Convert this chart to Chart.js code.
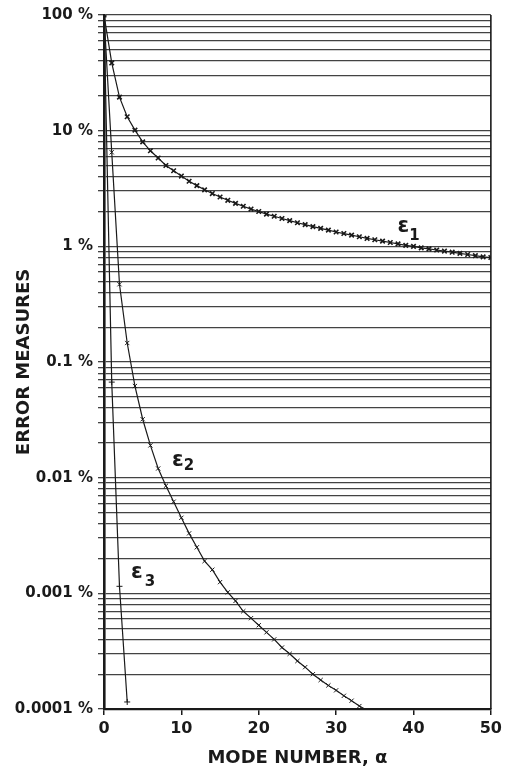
<!DOCTYPE html>
<html>
<head>
<meta charset="utf-8">
<script src="https://cdn.jsdelivr.net/npm/chart.js@4.4.1/dist/chart.umd.min.js"></script>
<style>
  html, body { margin: 0; padding: 0; background: #fff; }
  #wrap { width: 506px; height: 770px; }
</style>
</head>
<body>
<div id="wrap"><canvas id="chartErrors" width="506" height="770"></canvas></div>
<script>
/* =========================
   DATA (percent)
========================= */

const modeNumbers = [
  0, 1, 2, 3, 4, 5, 6, 7, 8, 9,
  10, 11, 12, 13, 14, 15, 16, 17, 18, 19,
  20, 21, 22, 23, 24, 25, 26, 27, 28, 29,
  30, 31, 32, 33, 34, 35, 36, 37, 38, 39,
  40, 41, 42, 43, 44, 45, 46, 47, 48, 49,
  50
];

const epsilon1 = [
  100, 38.5, 19.5, 13.2, 10.1, 8.0, 6.7, 5.8, 5.0, 4.5,
  4.05, 3.65, 3.35, 3.08, 2.86, 2.67, 2.5, 2.35, 2.22, 2.1,
  2.0, 1.9, 1.82, 1.74, 1.67, 1.6, 1.54, 1.48, 1.43, 1.38,
  1.33, 1.29, 1.25, 1.21, 1.17, 1.14, 1.11, 1.08, 1.05, 1.02,
  1.0, 0.97, 0.95, 0.93, 0.91, 0.89, 0.87, 0.85, 0.83, 0.81,
  0.8
];

const epsilon2 = [
  100, 6.5, 0.47, 0.146, 0.062, 0.032, 0.019, 0.012, 0.0085, 0.0062,
  0.0045, 0.0033, 0.0025, 0.0019, 0.0016, 0.00125, 0.00102, 0.00086, 0.0007, 0.00061,
  0.00053, 0.00046, 0.0004, 0.00034, 0.0003, 0.00026, 0.00023, 0.0002, 0.000178, 0.00016,
  0.000145, 0.00013, 0.000118, 0.000106, 0.0000975
];

const epsilon3 = [100, 0.067, 0.00115, 0.000115];

const decadeTicks = [0.0001, 0.001, 0.01, 0.1, 1, 10, 100];
const decadeLabels = ['0.0001 %', '0.001 %', '0.01 %', '0.1 %', '1 %', '10 %', '100 %'];
const minorSteps = [1, 2, 3, 4, 5, 6, 7, 8, 9];
const xTicks = [0, 10, 20, 30, 40, 50];

/* curve labels, anchored in data units */
const curveLabels = [
  { sub: '1', x: 38.7, y: 1.47, dx: 11, dy: 9 },
  { sub: '2', x: 9.55, y: 0.0142, dx: 11, dy: 6 },
  { sub: '3', x: 4.26, y: 0.0015, dx: 13, dy: 9 }
];

/* =========================
   HELPERS
========================= */

function toPoints(values) {
  return values.map((v, i) => ({ x: modeNumbers[i], y: v }));
}

const ink = '#1a1a1a';
const font = 'DejaVu Sans';

const yTickValues = [];
decadeTicks.forEach(d => {
  minorSteps.forEach(m => {
    const v = d * m;
    if (v <= 100.0001) {
      yTickValues.push(m === 1 ? d : v);
    }
  });
});

/* right frame line + epsilon labels */
const framePlugin = {
  id: 'frame',
  afterDatasetsDraw(chart) {
    const { ctx, chartArea, scales } = chart;

    ctx.save();
    ctx.strokeStyle = ink;
    ctx.lineWidth = 1.6;
    ctx.beginPath();
    ctx.moveTo(chartArea.right, chartArea.top);
    ctx.lineTo(chartArea.right, chartArea.bottom);
    ctx.stroke();

    ctx.fillStyle = ink;
    ctx.textAlign = 'center';
    ctx.textBaseline = 'middle';

    curveLabels.forEach(l => {
      const px = scales.x.getPixelForValue(l.x);
      const py = scales.y.getPixelForValue(l.y);

      ctx.font = 'bold 21px ' + font;
      ctx.fillText('\u03B5', px, py);

      ctx.font = 'bold 15px ' + font;
      ctx.fillText(l.sub, px + l.dx, py + l.dy);
    });

    ctx.restore();
  }
};

/* =========================
   CHART
========================= */

const lineStyle = {
  borderColor: ink,
  borderWidth: 1.2,
  pointBorderColor: ink,
  pointBackgroundColor: ink,
  fill: false,
  tension: 0
};

new Chart(document.getElementById('chartErrors'), {

  type: 'line',

  data: {
    datasets: [
      Object.assign({
        label: 'ε1',
        data: toPoints(epsilon1),
        pointStyle: 'crossRot',
        pointRadius: 3.2,
        pointBorderWidth: 1.6
      }, lineStyle),
      Object.assign({
        label: 'ε2',
        data: toPoints(epsilon2),
        pointStyle: 'crossRot',
        pointRadius: 3,
        pointBorderWidth: 1
      }, lineStyle),
      Object.assign({
        label: 'ε3',
        data: toPoints(epsilon3),
        pointStyle: 'cross',
        pointRadius: 3,
        pointBorderWidth: 1
      }, lineStyle)
    ]
  },

  options: {

    responsive: false,
    animation: false,
    devicePixelRatio: 1,

    layout: {
      padding: { top: 15, right: 15, left: 0, bottom: 0 }
    },

    plugins: {
      legend: { display: false },
      tooltip: { enabled: false }
    },

    scales: {

      x: {
        type: 'linear',
        min: 0,
        max: 50,
        afterBuildTicks(scale) {
          scale.ticks = xTicks.map(v => ({ value: v }));
        },
        afterFit(scale) {
          scale.height = 61;
        },
        grid: {
          drawOnChartArea: false,
          drawTicks: true,
          tickLength: 6,
          color: ink,
          lineWidth: 1.5
        },
        border: { color: ink, width: 2.2 },
        ticks: {
          color: ink,
          padding: 4,
          maxRotation: 0,
          font: { family: font, size: 16, weight: 'bold' }
        },
        title: {
          display: true,
          text: 'MODE NUMBER, α',
          color: ink,
          padding: { top: 0, bottom: 1 },
          font: { family: font, size: 18, weight: 'bold' }
        }
      },

      y: {
        type: 'logarithmic',
        min: 0.0001,
        max: 100,
        afterBuildTicks(scale) {
          scale.ticks = yTickValues.map(v => ({ value: v }));
        },
        afterFit(scale) {
          scale.width = 104;
        },
        grid: {
          drawTicks: true,
          tickLength: 6,
          color: 'rgba(20,20,20,0.8)',
          lineWidth: 1.3
        },
        border: { color: ink, width: 2.6 },
        ticks: {
          color: ink,
          padding: 5,
          autoSkip: false,
          font: { family: font, size: 15, weight: 'bold' },
          callback(value) {
            const i = decadeTicks.indexOf(value);
            return i >= 0 ? decadeLabels[i] : '';
          }
        },
        title: {
          display: true,
          text: 'ERROR MEASURES',
          color: ink,
          padding: { top: 14, bottom: 0 },
          font: { family: font, size: 18, weight: 'bold' }
        }
      }

    }

  },

  plugins: [framePlugin]

});
</script>
</body>
</html>
